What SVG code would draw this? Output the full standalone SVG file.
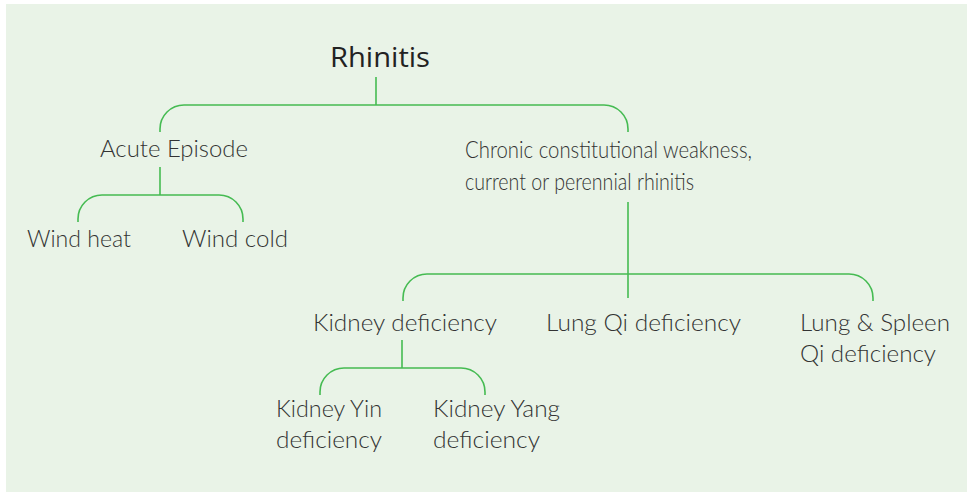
<svg xmlns="http://www.w3.org/2000/svg" width="967" height="492" viewBox="0 0 967 492">
<style>
.bg{fill:#e9f3e7}
.c{fill:none;stroke:#45bb52;stroke-width:1.6}
.t{font-family:Lato,"Open Sans","Liberation Sans",sans-serif;font-weight:300;font-size:23.5px;fill:#333333}
.r{font-family:"Open Sans","Liberation Sans",sans-serif;font-weight:400;font-size:28px;fill:#222222}
</style>
<rect class="bg" x="6" y="4" width="961" height="488"/>
<g id="connectors">
<path class="c" d="M376,77 V105"/>
<path class="c" d="M160,132 V129 A24,24 0 0 1 184,105 H604 A24,24 0 0 1 628,129 V132"/>
<path class="c" d="M160,167 V195"/>
<path class="c" d="M78,222 V219 A24,24 0 0 1 102,195 H219 A24,24 0 0 1 243,219 V222"/>
<path class="c" d="M628,202 V298"/>
<path class="c" d="M403,301 V298 A24,24 0 0 1 427,274 H849 A24,24 0 0 1 873,298 V301"/>
<path class="c" d="M402,340 V368"/>
<path class="c" d="M320,395 V392 A24,24 0 0 1 344,368 H461 A24,24 0 0 1 485,392 V395"/>
</g>
<g id="rhinitis"><text class="r" x="330" y="67" textLength="100" lengthAdjust="spacingAndGlyphs">Rhinitis</text></g>
<g id="acute"><text class="t" x="100" y="157" textLength="148" lengthAdjust="spacingAndGlyphs">Acute Episode</text></g>
<g id="wind-heat"><text class="t" x="27" y="247" textLength="104" lengthAdjust="spacingAndGlyphs">Wind heat</text></g>
<g id="wind-cold"><text class="t" x="182" y="247" textLength="106" lengthAdjust="spacingAndGlyphs">Wind cold</text></g>
<g id="chronic">
<text class="t" x="465" y="158" textLength="287" lengthAdjust="spacingAndGlyphs">Chronic constitutional weakness,</text>
<text class="t" x="465" y="190" textLength="229" lengthAdjust="spacingAndGlyphs">current or perennial rhinitis</text>
</g>
<g id="kidney"><text class="t" x="313" y="331" textLength="184" lengthAdjust="spacingAndGlyphs">Kidney deficiency</text></g>
<g id="lung-qi"><text class="t" x="546" y="331" textLength="195" lengthAdjust="spacingAndGlyphs">Lung Qi deficiency</text></g>
<g id="lung-spleen">
<text class="t" x="800" y="331" textLength="150" lengthAdjust="spacingAndGlyphs">Lung &amp; Spleen</text>
<text class="t" x="800" y="362" textLength="136" lengthAdjust="spacingAndGlyphs">Qi deficiency</text>
</g>
<g id="kidney-yin">
<text class="t" x="276" y="417" textLength="106" lengthAdjust="spacingAndGlyphs">Kidney Yin</text>
<text class="t" x="276" y="448" textLength="106" lengthAdjust="spacingAndGlyphs">deficiency</text>
</g>
<g id="kidney-yang">
<text class="t" x="433" y="417" textLength="127" lengthAdjust="spacingAndGlyphs">Kidney Yang</text>
<text class="t" x="433" y="448" textLength="107" lengthAdjust="spacingAndGlyphs">deficiency</text>
</g>
</svg>
